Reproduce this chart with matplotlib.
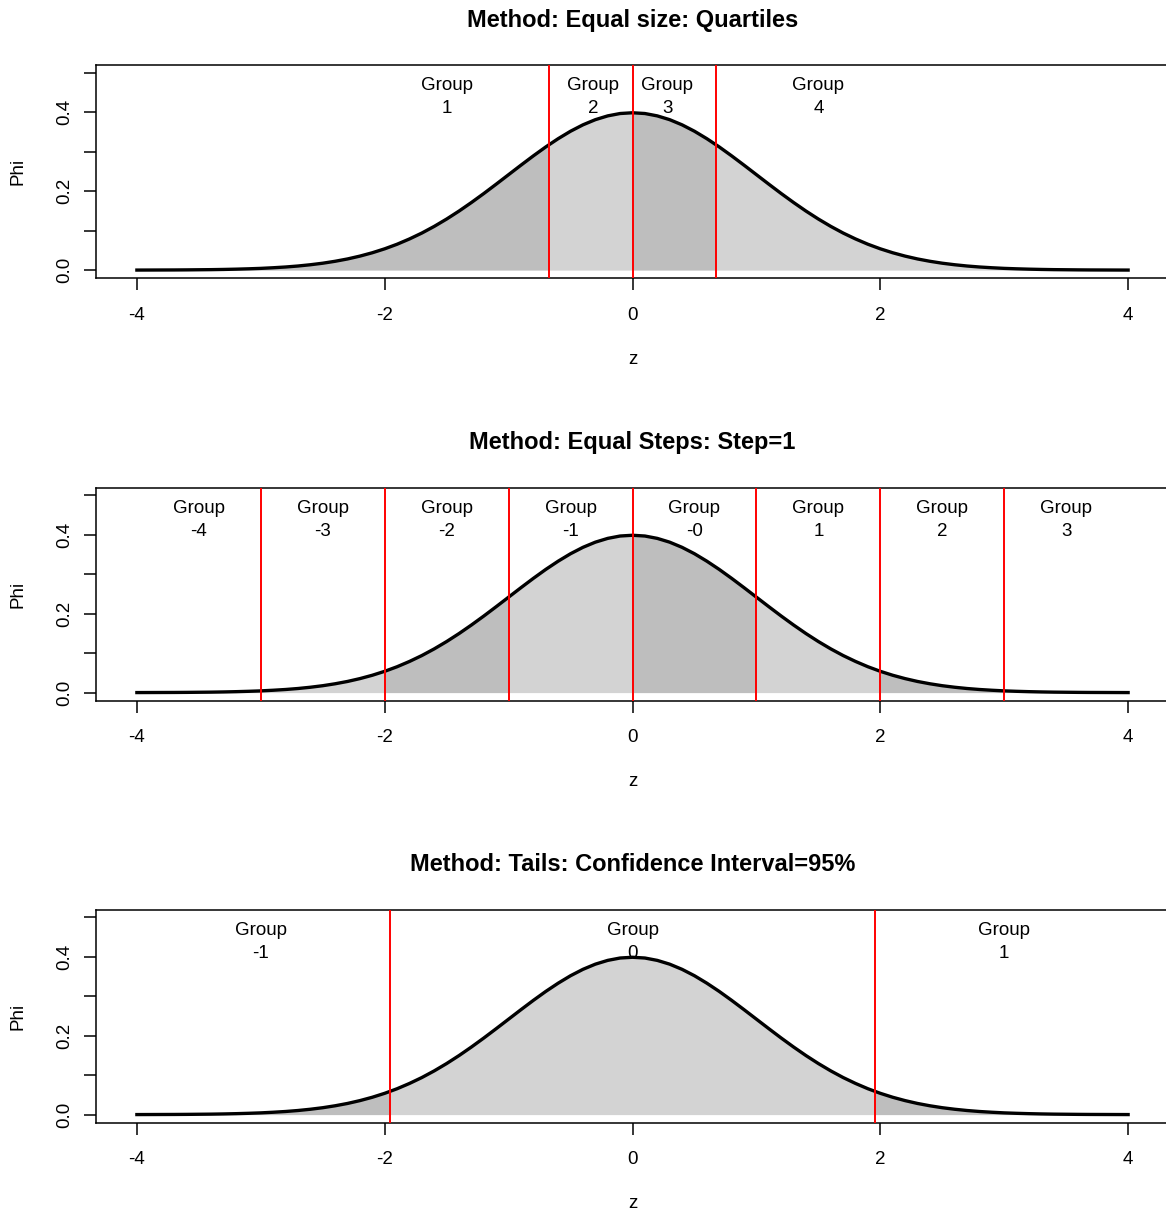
"""
Normal density split into groups by three methods: three stacked panels, R base-graphics look.
"""

import matplotlib
matplotlib.use('Agg')
import matplotlib.pyplot as plt
import matplotlib.patches as mpatches
import numpy as np

matplotlib.rcParams['font.family'] = ['Liberation Sans', 'DejaVu Sans']

# ── Data ─────────────────────────────────────────────────────────────────────
Z = np.round(np.arange(-40, 41) / 10, 1)
PHI = [0.0001, 0.0002, 0.0003, 0.0004, 0.0006, 0.0009, 0.0012, 0.0017, 0.0024, 0.0033,
       0.0044, 0.0060, 0.0079, 0.0104, 0.0136, 0.0175, 0.0224, 0.0283, 0.0355, 0.0440,
       0.0540, 0.0656, 0.0790, 0.0940, 0.1109, 0.1295, 0.1497, 0.1714, 0.1942, 0.2179,
       0.2420, 0.2661, 0.2897, 0.3123, 0.3332, 0.3521, 0.3683, 0.3814, 0.3910, 0.3970,
       0.3989,
       0.3970, 0.3910, 0.3814, 0.3683, 0.3521, 0.3332, 0.3123, 0.2897, 0.2661, 0.2420,
       0.2179, 0.1942, 0.1714, 0.1497, 0.1295, 0.1109, 0.0940, 0.0790, 0.0656, 0.0540,
       0.0440, 0.0355, 0.0283, 0.0224, 0.0175, 0.0136, 0.0104, 0.0079, 0.0060, 0.0044,
       0.0033, 0.0024, 0.0017, 0.0012, 0.0009, 0.0006, 0.0004, 0.0003, 0.0002, 0.0001]

TITLES = ['Method: Equal size: Quartiles',
          'Method: Equal Steps: Step=1',
          'Method: Tails: Confidence Interval=95%']

CUTS_1 = [-0.674, 0.0, 0.674]
CUTS_2 = [-3.0, -2.0, -1.0, 0.0, 1.0, 2.0, 3.0]
CUTS_3 = [-1.96, 1.96]

LBL_X_1 = [-1.5, -0.32, 0.28, 1.5]
LBL_X_2 = [-3.5, -2.5, -1.5, -0.5, 0.5, 1.5, 2.5, 3.5]
LBL_X_3 = [-3.0, 0.0, 3.0]

GROUPS_1 = ['1', '2', '3', '4']
GROUPS_2 = ['-4', '-3', '-2', '-1', '-0', '1', '2', '3']
GROUPS_3 = ['-1', '0', '1']

X_TICKS = [-4, -2, 0, 2, 4]
Y_TICKS = [0.0, 0.1, 0.2, 0.3, 0.4, 0.5]
Y_TICKLABELS = ['0.0', '', '0.2', '', '0.4', '']

C_DARK = '#BEBEBE'
C_LIGHT = '#D3D3D3'
C_RED = '#FF0000'

W, H = 1166, 1214
PANEL_TOPS = [65, 487.5, 909.5]
PANEL_H = 213
AX_L, AX_R = 96, 1169


def panel(fig, top, title, cuts, lbl_x, groups):
    ax = fig.add_axes([AX_L / W, 1 - (top + PANEL_H) / H,
                       (AX_R - AX_L) / W, PANEL_H / H])
    ax.set_xlim(-4.33, 4.33)
    ax.set_ylim(-0.02, 0.52)

    # shaded groups, alternating dark / light
    edges = [-4.0] + cuts + [4.0]
    for i in range(len(edges) - 1):
        poly = ax.fill_between(Z, 0, PHI, color=C_DARK if i % 2 == 0 else C_LIGHT,
                               lw=0, zorder=1)
        clip = mpatches.Rectangle((edges[i], -1), edges[i + 1] - edges[i], 2,
                                  transform=ax.transData)
        poly.set_clip_path(clip)

    for gx, g in zip(lbl_x, groups):
        ax.text(gx, 0.438, 'Group\n' + g, ha='center', va='center',
                fontsize=13.5, linespacing=1.45, zorder=2)

    ax.plot(Z, PHI, color='black', lw=2.4, zorder=3)
    for c in cuts:
        ax.axvline(c, color=C_RED, lw=1.4, zorder=4)

    for s in ax.spines.values():
        s.set_linewidth(1.1)

    ax.set_xticks(X_TICKS)
    ax.set_xticklabels([str(t) for t in X_TICKS])
    ax.set_yticks(Y_TICKS)
    ax.set_yticklabels(Y_TICKLABELS)
    ax.tick_params(axis='both', direction='out', length=8.3, width=1.1,
                   labelsize=13.5)
    ax.tick_params(axis='x', pad=12.5)
    ax.tick_params(axis='y', pad=7.8, labelrotation=90)
    plt.setp(ax.get_yticklabels(), va='center')

    ax.text(0.5, 1 + 45 / PANEL_H, title, transform=ax.transAxes,
            ha='center', va='center', fontsize=17, fontweight='bold')
    ax.set_xlabel('z', fontsize=13.5)
    ax.xaxis.label.set_va('center')
    ax.xaxis.set_label_coords(0.5, -81 / PANEL_H)
    ax.set_ylabel('Phi', fontsize=13.5)
    ax.yaxis.label.set_va('center')
    ax.yaxis.set_label_coords(-78 / (AX_R - AX_L), 0.5)
    return ax


def main():
    fig = plt.figure(figsize=(W / 100, H / 100), dpi=100)
    fig.patch.set_facecolor('white')

    panel(fig, PANEL_TOPS[0], TITLES[0], CUTS_1, LBL_X_1, GROUPS_1)
    panel(fig, PANEL_TOPS[1], TITLES[1], CUTS_2, LBL_X_2, GROUPS_2)
    panel(fig, PANEL_TOPS[2], TITLES[2], CUTS_3, LBL_X_3, GROUPS_3)

    fig.savefig('out.png', dpi=100, facecolor='white')
    plt.close(fig)


if __name__ == '__main__':
    main()
